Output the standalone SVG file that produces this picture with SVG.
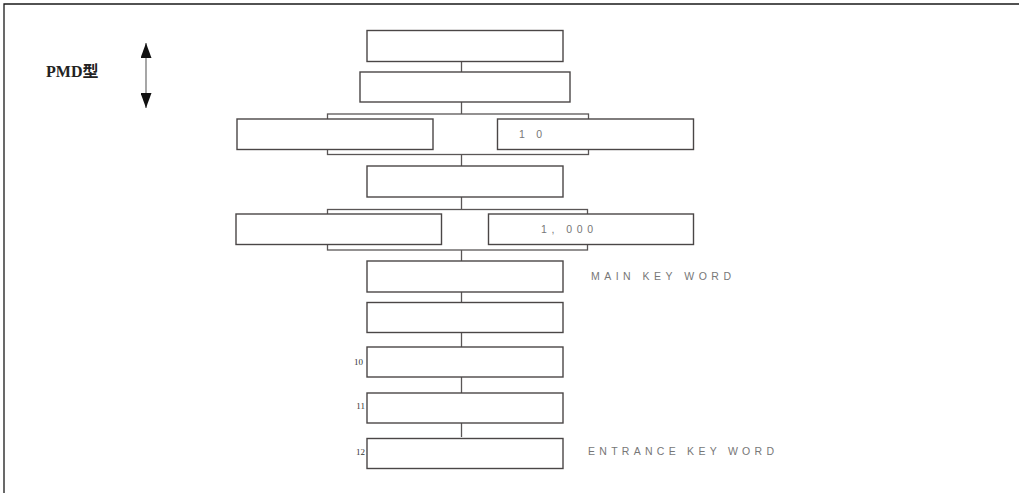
<svg xmlns="http://www.w3.org/2000/svg" width="1019" height="493" viewBox="0 0 1019 493">
  <style>
    .box { fill: #fff; stroke: #4a4646; stroke-width: 1.4; }
    .wire { fill: none; stroke: #5a5656; stroke-width: 1.3; }
    .frame { fill: none; stroke: #1a1a1a; stroke-width: 1.3; }
    .lbl { font-family: "Liberation Sans", Arial, sans-serif; font-size: 10.5px; fill: #777; }
    .num { font-family: "Liberation Serif", "Times New Roman", serif; font-size: 9px; fill: #333; }
    .title { font-family: "Liberation Serif", "Noto Sans CJK JP", serif; font-size: 16px; font-weight: bold; fill: #222; }
  </style>
  <defs>
    <marker id="head" viewBox="0 0 10 10" refX="10" refY="5" markerWidth="15" markerHeight="11" markerUnits="userSpaceOnUse" orient="auto-start-reverse" preserveAspectRatio="none">
      <path d="M0,0 L10,5 L0,10 Z" fill="#111"/>
    </marker>
  </defs>

  <rect width="1019" height="493" fill="#fff"/>

  <!-- page frame: top and left edges -->
  <path class="frame" d="M4,493 V4 H1019"/>

  <!-- type label with double-headed arrow -->
  <g id="type-label">
    <text class="title" x="46" y="77">PMD型</text>
    <line x1="146" y1="43" x2="146" y2="108" stroke="#777" stroke-width="1.3" marker-start="url(#head)" marker-end="url(#head)"/>
  </g>

  <!-- connectors -->
  <g id="connectors">
    <line class="wire" x1="461.5" y1="62" x2="461.5" y2="72"/>
    <line class="wire" x1="461.5" y1="102" x2="461.5" y2="114"/>
    <rect class="wire" x="327.5" y="114" width="261" height="40.5"/>
    <line class="wire" x1="461.5" y1="154.5" x2="461.5" y2="166"/>
    <line class="wire" x1="461.5" y1="197" x2="461.5" y2="209.5"/>
    <rect class="wire" x="327.5" y="209.5" width="260" height="40.5"/>
    <line class="wire" x1="461.5" y1="250" x2="461.5" y2="261"/>
    <line class="wire" x1="461.5" y1="292" x2="461.5" y2="302"/>
    <line class="wire" x1="461.5" y1="332.5" x2="461.5" y2="347"/>
    <line class="wire" x1="461.5" y1="377" x2="461.5" y2="393"/>
    <line class="wire" x1="461.5" y1="423" x2="461.5" y2="437"/>
  </g>

  <!-- nodes -->
  <g id="n1"><rect class="box" x="367" y="30.5" width="196" height="31"/></g>
  <g id="n2"><rect class="box" x="360" y="72" width="210" height="30"/></g>
  <g id="n3a"><rect class="box" x="237" y="119" width="196" height="30.5"/></g>
  <g id="n3b">
    <rect class="box" x="497.5" y="119" width="196" height="30.5"/>
    <text class="lbl" x="519" y="137.5" textLength="23">10</text>
  </g>
  <g id="n4"><rect class="box" x="367" y="166" width="196" height="31"/></g>
  <g id="n5a"><rect class="box" x="236" y="214" width="205.5" height="30.5"/></g>
  <g id="n5b">
    <rect class="box" x="488.5" y="214" width="205" height="30.5"/>
    <text class="lbl" x="541" y="233" textLength="52">1, 000</text>
  </g>
  <g id="n6">
    <rect class="box" x="367" y="261" width="196" height="31"/>
    <text class="lbl" x="591" y="280" textLength="140">MAIN KEY WORD</text>
  </g>
  <g id="n7"><rect class="box" x="367" y="302.5" width="196" height="30"/></g>
  <g id="n8">
    <rect class="box" x="367" y="347" width="196" height="30"/>
    <text class="num" x="363" y="365" text-anchor="end">10</text>
  </g>
  <g id="n9">
    <rect class="box" x="367" y="393" width="196" height="30"/>
    <text class="num" x="365" y="409" text-anchor="end">11</text>
  </g>
  <g id="n10">
    <rect class="box" x="367" y="438.5" width="196" height="30"/>
    <text class="num" x="365" y="455" text-anchor="end">12</text>
    <text class="lbl" x="588" y="454.5" textLength="186">ENTRANCE KEY WORD</text>
  </g>
</svg>
